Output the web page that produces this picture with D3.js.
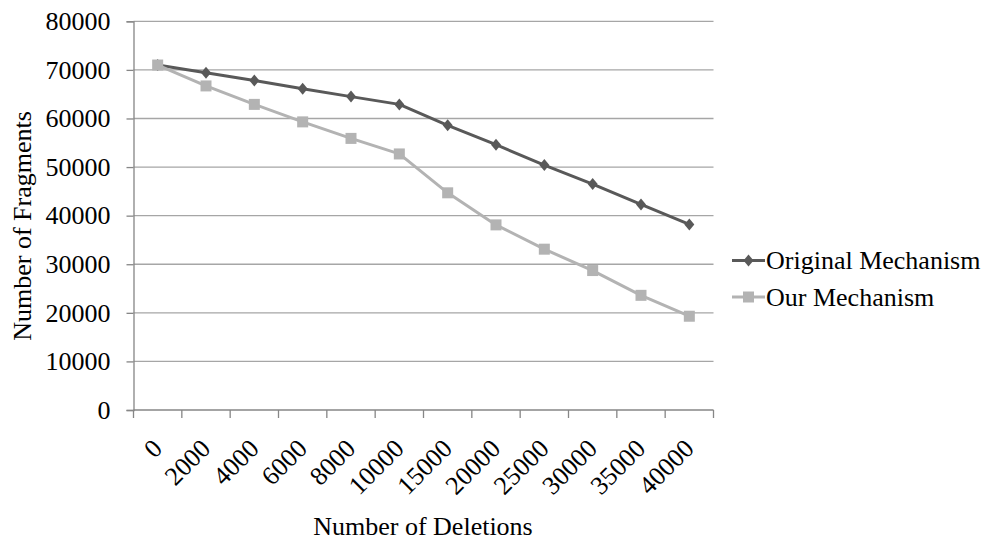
<!DOCTYPE html>
<html>
<head>
<meta charset="utf-8">
<script src="https://cdn.jsdelivr.net/npm/d3@7"></script>
</head>
<body style="margin:0;background:#fff">
<svg id="chart" width="986" height="541"></svg>
<script>
// Deletions performed (category axis)
const deletions = ["0", "2000", "4000", "6000", "8000", "10000", "15000", "20000", "25000", "30000", "35000", "40000"];
// Fragment counts per mechanism
const originalMechanism = [71000, 69400, 67800, 66100, 64500, 62900, 58600, 54600, 50400, 46500, 42300, 38200];
const ourMechanism      = [71000, 66700, 62900, 59300, 55900, 52700, 44700, 38100, 33100, 28700, 23600, 19300];
const yTicks = [0, 10000, 20000, 30000, 40000, 50000, 60000, 70000, 80000];

const series = [
  { name: "Original Mechanism", values: originalMechanism, color: "#595959", marker: "diamond" },
  { name: "Our Mechanism", values: ourMechanism, color: "#b3b3b3", marker: "square" }
];

const FONT = "'Liberation Serif', Tinos, 'Times New Roman', serif";
const FONT_SIZE = "26px";

const svg = d3.select("#chart");
const plot = { left: 133.5, right: 713.5, top: 21.3, bottom: 410 };

const x = d3.scaleBand().domain(deletions).range([plot.left, plot.right]);
const y = d3.scaleLinear().domain([0, 80000]).range([plot.bottom, plot.top]);

function serif(sel) {
  return sel.style("font-family", FONT).style("font-size", FONT_SIZE).style("fill", "#000");
}

// Horizontal gridlines
svg.append("g")
  .selectAll("line")
  .data(yTicks.filter(d => d > 0))
  .join("line")
  .attr("x1", plot.left).attr("x2", plot.right)
  .attr("y1", d => y(d)).attr("y2", d => y(d))
  .attr("stroke", "#a6a6a6").attr("stroke-width", 1.3);

// Y axis
const yAxis = svg.append("g")
  .attr("transform", `translate(${plot.left},0)`)
  .call(d3.axisLeft(y).tickValues(yTicks).tickSize(7).tickPadding(16).tickFormat(d3.format("d")));
yAxis.attr("font-family", null).attr("font-size", null);
yAxis.select(".domain").attr("stroke", "#868686").attr("stroke-width", 1.3);
yAxis.selectAll(".tick line").attr("stroke", "#868686").attr("stroke-width", 1.3);
serif(yAxis.selectAll(".tick text"));

// X axis: tick marks at category boundaries
const boundaries = deletions.map(d => x(d)).concat([x(deletions[deletions.length - 1]) + x.bandwidth()]);
const xAxis = svg.append("g");
xAxis.append("line")
  .attr("x1", plot.left).attr("x2", plot.right)
  .attr("y1", plot.bottom).attr("y2", plot.bottom)
  .attr("stroke", "#868686").attr("stroke-width", 1.3);
xAxis.selectAll("line.tk")
  .data(boundaries)
  .join("line")
  .attr("class", "tk")
  .attr("x1", d => d).attr("x2", d => d)
  .attr("y1", plot.bottom).attr("y2", plot.bottom + 8)
  .attr("stroke", "#868686").attr("stroke-width", 1.3);
serif(xAxis.selectAll("text")
  .data(deletions)
  .join("text")
  .attr("transform", d => `translate(${x(d) + x.bandwidth() / 2 + 6},${plot.bottom + 40}) rotate(-45)`)
  .attr("text-anchor", "end")
  .text(d => d));

// Axis titles
serif(svg.append("text")
  .attr("transform", `translate(31,226) rotate(-90)`)
  .attr("text-anchor", "middle")
  .text("Number of Fragments"));
serif(svg.append("text")
  .attr("x", 423).attr("y", 535)
  .attr("text-anchor", "middle")
  .text("Number of Deletions"));

// Series lines and markers
const cx = d => x(d) + x.bandwidth() / 2;
const line = d3.line().x((v, i) => cx(deletions[i])).y(v => y(v));

function drawMarker(g, type, color) {
  if (type === "diamond") {
    g.append("path").attr("d", "M0,-6L5,0L0,6L-5,0Z").attr("fill", color);
  } else {
    g.append("rect").attr("x", -5.5).attr("y", -5.5).attr("width", 11).attr("height", 11).attr("fill", color);
  }
}

// Series drawn in legend order, so the later one sits on top at the shared start
series.forEach(s => {
  const g = svg.append("g");
  g.append("path")
    .datum(s.values)
    .attr("d", line)
    .attr("fill", "none")
    .attr("stroke", s.color)
    .attr("stroke-width", 3)
    .attr("stroke-linejoin", "round");
  s.values.forEach((v, i) => {
    const m = g.append("g").attr("transform", `translate(${cx(deletions[i])},${y(v)})`);
    drawMarker(m, s.marker, s.color);
  });
});

// Legend
const legend = svg.append("g");
series.forEach((s, i) => {
  const ly = 260.5 + i * 36.5;
  const item = legend.append("g");
  item.append("line")
    .attr("x1", 732).attr("x2", 765)
    .attr("y1", ly).attr("y2", ly)
    .attr("stroke", s.color).attr("stroke-width", 3);
  const m = item.append("g").attr("transform", `translate(748.5,${ly})`);
  drawMarker(m, s.marker, s.color);
  serif(item.append("text")
    .attr("x", 766).attr("y", ly + 8.5)
    .text(s.name));
});
</script>
</body>
</html>
